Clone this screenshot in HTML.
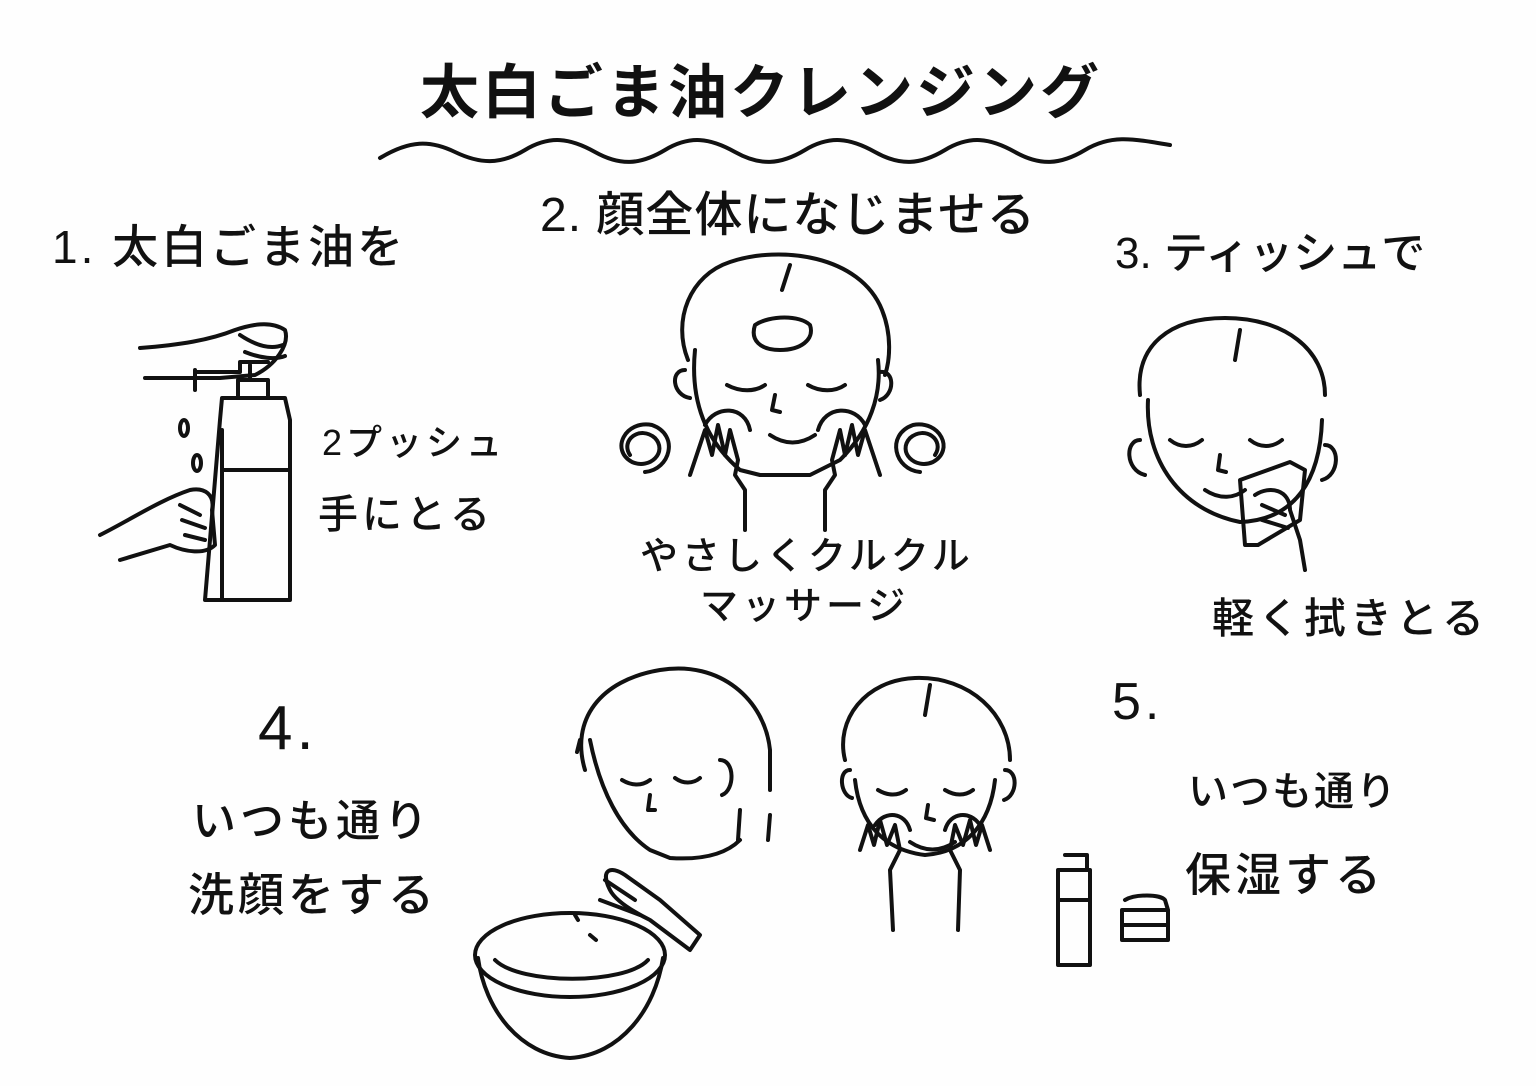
<!DOCTYPE html>
<html><head><meta charset="utf-8"><style>
html,body{margin:0;padding:0;background:#fff;}
#c{position:relative;width:1536px;height:1086px;overflow:hidden;background:#fefefe;font-family:"Liberation Sans","Noto Sans CJK JP",sans-serif;color:#111;}
.t{position:absolute;white-space:nowrap;font-weight:500;letter-spacing:4px;line-height:1;}
svg{position:absolute;left:0;top:0;}
</style></head><body><div id="c">
<svg width="1536" height="1086" viewBox="0 0 1536 1086" fill="none" stroke="#111" stroke-width="4" stroke-linecap="round" stroke-linejoin="round">
<path d="M380 158 C410 140,430 140,455 152 S500 165,525 150 S570 138,595 152 S640 165,665 150 S710 138,735 152 S780 165,805 150 S850 138,875 152 S920 165,945 150 S990 138,1015 152 S1060 165,1085 150 S1130 138,1170 145"/>
<path d="M205 600 L220 420 L222 398 L285 398 L290 420 L290 600 Z"/>
<path d="M238 398 L238 380 L268 380 L268 398 M250 380 L250 365"/>
<path d="M222 430 L222 600 M222 470 L288 470"/>
<path d="M195 370 L195 390 M195 372 L240 372 L240 362 L268 362"/>
<path d="M140 348 C180 345,210 340,235 330 C250 325,270 320,285 330 C290 345,275 365,255 375 L220 378 L145 378"/>
<path d="M240 335 C255 345,270 350,283 345 M245 352 C260 358,275 360,285 356"/>
<path d="M100 535 C130 520,160 500,190 490 C205 487,215 495,212 510 L215 545 C205 555,185 552,170 545 L120 560"/>
<path d="M180 505 L200 515 M182 520 L205 528 M185 535 L205 540"/>
<ellipse cx="184" cy="428" rx="4" ry="8"/><ellipse cx="197" cy="463" rx="4" ry="8"/>
<path d="M688 360 C672 320,690 275,730 262 C780 245,860 255,882 310 C892 335,890 360,885 375"/>
<path d="M695 350 C690 400,705 440,740 470 L760 475 L810 475 L840 460 C870 430,882 395,878 360"/>
<path d="M685 370 C670 370,672 395,690 398 M880 372 C895 370,895 395,880 400"/>
<path d="M790 265 L782 290"/>
<path d="M755 325 C770 315,800 315,810 325 C815 340,800 350,780 350 C760 350,750 340,755 325Z"/>
<path d="M727 385 C740 392,755 392,765 385 M808 385 C820 392,835 392,845 385"/>
<path d="M775 395 L772 410 L780 412"/>
<path d="M770 435 C785 445,800 445,815 435"/>
<path d="M690 475 L705 430 L712 455 L718 425 L725 455 L730 430 L738 460 L735 475 L745 490 L745 530"/>
<path d="M880 475 L865 430 L858 455 L852 425 L845 455 L840 430 L832 460 L835 475 L825 490 L825 530"/>
<path d="M705 425 C715 405,745 405,750 430 M818 430 C825 405,855 405,865 425"/>
<path d="M630 455 C620 440,640 425,655 438 C668 452,650 470,632 462 C610 450,625 420,652 425 C680 435,670 470,645 472"/>
<path d="M935 455 C945 440,925 425,910 438 C897 452,915 470,933 462 C955 450,940 420,913 425 C885 435,895 470,920 472"/>
<path d="M1140 395 C1135 345,1170 318,1225 318 C1285 318,1325 350,1325 395"/>
<path d="M1148 400 C1145 460,1180 510,1240 522 C1295 520,1320 480,1322 420"/>
<path d="M1140 440 C1125 440,1125 470,1145 475 M1325 445 C1340 445,1340 475,1322 480"/>
<path d="M1240 330 L1235 360"/>
<path d="M1170 440 C1180 448,1192 448,1202 440 M1250 440 C1260 448,1272 448,1282 440"/>
<path d="M1220 455 L1218 470 L1226 472"/>
<path d="M1205 490 C1220 500,1235 498,1245 490"/>
<path d="M1240 480 L1290 462 L1305 470 L1300 520 L1258 545 L1245 545 Z"/>
<path d="M1255 495 C1270 485,1290 490,1290 510 L1300 540 L1305 570 M1262 505 L1285 515 M1262 520 L1288 528"/>
<path d="M585 770 C570 720,600 680,660 670 C720 660,765 700,770 750 L770 790"/>
<path d="M590 740 C600 790,620 830,650 850 L670 858 C700 860,725 855,740 840"/>
<path d="M720 760 C735 760,735 790,722 795"/>
<path d="M740 810 L738 840 M770 815 L768 840"/>
<path d="M580 740 L577 752"/>
<path d="M622 780 C632 786,642 786,650 780 M675 778 C683 784,693 784,700 778"/>
<path d="M650 795 L648 810 L655 810"/>
<path d="M610 890 C600 870,610 865,625 875 L660 900 L700 935 L690 950 L650 920 C630 910,615 900,610 890Z"/>
<path d="M600 900 L640 915 M605 880 L635 900"/>
<ellipse cx="570" cy="955" rx="95" ry="42"/>
<path d="M478 958 C485 1010,520 1055,570 1058 C620 1055,655 1010,663 958"/>
<path d="M495 960 C520 985,625 985,648 960"/>
<path d="M590 935 L596 940 M575 915 L578 920"/>
<path d="M845 760 C835 720,865 680,915 678 C970 676,1010 715,1010 760"/>
<path d="M855 780 C860 825,885 850,925 855 C965 852,990 825,995 780"/>
<path d="M850 770 C838 770,840 795,852 798 M1005 770 C1018 770,1018 795,1004 800"/>
<path d="M930 685 L925 715"/>
<path d="M878 790 C888 796,898 796,906 790 M945 790 C955 796,965 796,973 790"/>
<path d="M928 805 L926 818 L934 820"/>
<path d="M910 842 C925 852,940 852,955 842"/>
<path d="M860 850 L868 825 L874 845 L880 820 L887 845 L895 825 L900 850 L890 870 L893 930"/>
<path d="M990 850 L982 825 L976 845 L970 820 L963 845 L955 825 L950 850 L960 870 L958 930"/>
<path d="M875 825 C885 810,905 812,910 830 M945 830 C950 812,970 810,980 825"/>
<path d="M1062 870 L1090 870 L1090 965 L1058 965 L1058 870 Z M1065 855 L1087 855 L1087 870 M1060 900 L1090 900"/>
<path d="M1122 910 L1168 910 L1168 940 L1122 940 Z M1125 900 C1135 894,1160 894,1165 900 L1168 910 M1122 925 L1168 925"/>
</svg>
<div class="t" style="left:420px;top:64px;font-size:59px;font-weight:700;letter-spacing:3px;">太白ごま油クレンジング</div>
<div class="t" style="left:52px;top:224px;font-size:46px;letter-spacing:3px;">1. 太白ごま油を</div>
<div class="t" style="left:540px;top:192px;font-size:48px;letter-spacing:1px;">2. 顔全体になじませる</div>
<div class="t" style="left:1115px;top:232px;font-size:44px;letter-spacing:0px;">3. ティッシュで</div>
<div class="t" style="left:322px;top:425px;font-size:36px;">2プッシュ</div>
<div class="t" style="left:318px;top:495px;font-size:40px;">手にとる</div>
<div class="t" style="left:640px;top:538px;font-size:38px;">やさしくクルクル</div>
<div class="t" style="left:700px;top:588px;font-size:38px;">マッサージ</div>
<div class="t" style="left:1212px;top:598px;font-size:42px;">軽く拭きとる</div>
<div class="t" style="left:258px;top:698px;font-size:62px;">4.</div>
<div class="t" style="left:192px;top:800px;font-size:44px;">いつも通り</div>
<div class="t" style="left:188px;top:872px;font-size:46px;">洗顔をする</div>
<div class="t" style="left:1112px;top:676px;font-size:52px;">5.</div>
<div class="t" style="left:1188px;top:772px;font-size:40px;letter-spacing:2px;">いつも通り</div>
<div class="t" style="left:1185px;top:852px;font-size:46px;">保湿する</div>
</div></body></html>
